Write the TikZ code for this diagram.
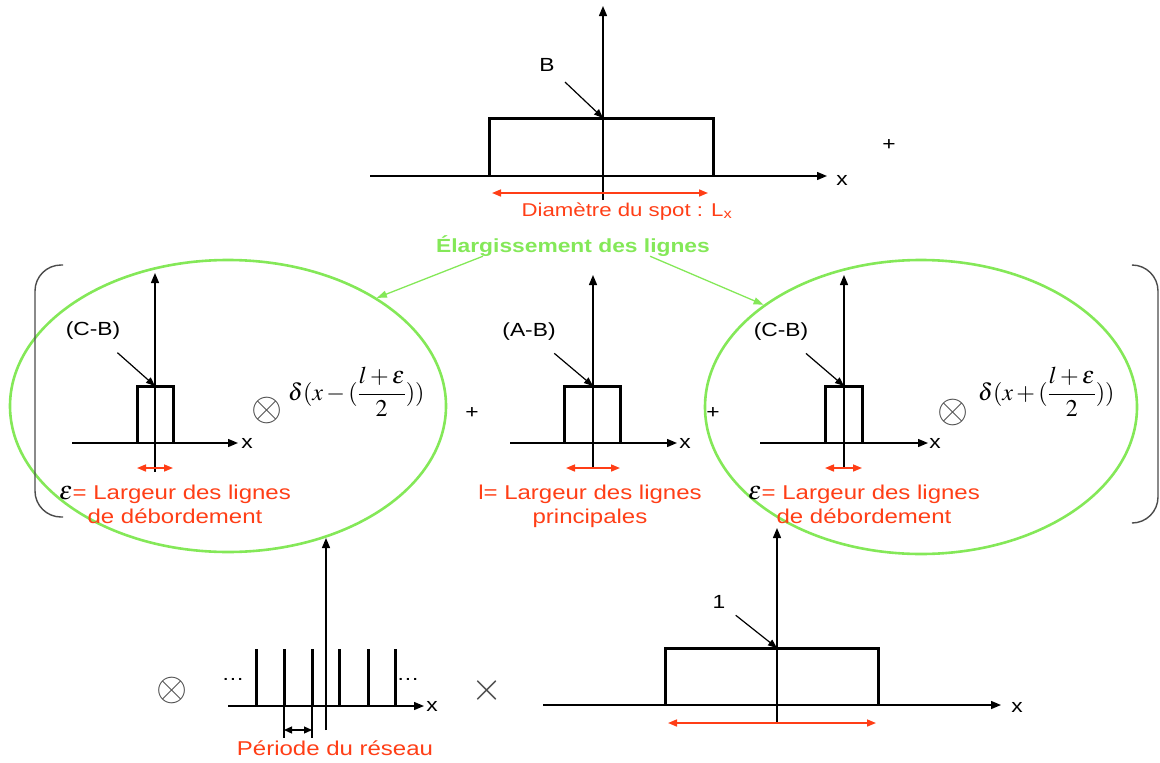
\documentclass[tikz,border=0pt]{standalone}
\usepackage{mathptmx}
\usepackage{fontspec}
\setmainfont{Liberation Sans}[FakeStretch=1.2]
\usetikzlibrary{shapes.geometric, positioning, arrows.meta, calc}

\definecolor{spotred}{RGB}{255,62,22}
\definecolor{widegreen}{RGB}{132,232,88}
\definecolor{bracketgray}{RGB}{75,75,75}

\begin{document}
\begin{tikzpicture}[
    x=1pt, y={(0pt,-1pt)},
    every node/.style={inner sep=0pt, font=\fontsize{19}{24}\selectfont},
    axis/.style={line width=1.4pt, -{Triangle[length=10pt, width=8pt]}},
    pulse/.style={line width=3pt},
    spread/.style={spotred, line width=1.6pt, {Triangle[length=9pt, width=7pt]}-{Triangle[length=9pt, width=7pt]}},
    pointer/.style={line width=1.2pt, -{Triangle[length=9pt, width=7pt]}},
    redtext/.style={text=spotred, align=center, font=\fontsize{20}{24}\selectfont},
    ring/.style={ellipse, draw=widegreen, line width=2.6pt},
    greenarrow/.style={widegreen, line width=1.3pt, -{Triangle[length=10pt, width=7pt]}},
    bracket/.style={draw=bracketgray, line width=1.4pt, rounded corners=26pt},
    opsign/.style={text=bracketgray, font=\fontsize{40}{40}\selectfont},
    formula/.style={font=\fontsize{24}{28}\selectfont, anchor=base west}
]
\useasboundingbox (0,0) rectangle (1160,763);

% Spot profile (top)
\draw[axis] (370,176) -- (827,176);
\node (xtop) at (842,180) {x};
\draw[axis] (603,200) -- (603,6);
\draw[pulse] (489,176) |- (713,118) -- (713,176);
\coordinate (Btop) at (603,118);
\node (B) at (547,65) {B};
\draw[pointer, shorten <=15pt] (B) -- (Btop);
\draw[spread] (492,193) -- (708,193);
\node[redtext, anchor=base, font=\fontsize{18.5}{22}\selectfont] (diam) at (627,216) {Diamètre du spot : L\textsubscript{x}};
\node (plus1) at (889,145) {+};

% Line broadening and the two rings
\node[anchor=base, text=widegreen, font=\bfseries\fontsize{19}{24}\selectfont] (elarg) at (573,252) {Élargissement des lignes};
\node[ring, minimum width=436pt, minimum height=292pt] (ringL) at (228,406) {};
\node[ring, minimum width=432pt, minimum height=294pt] (ringR) at (921,407) {};
\draw[greenarrow] ($(elarg.south west)+(47,0)$) -- (ringL.36);
\draw[greenarrow] ($(elarg.south east)+(-60,0)$) -- (ringR.147);

% Brackets
\draw[bracket] (63,265) -- (35,265) -- (35,517) -- (63,517);
\draw[bracket] (1133,265) -- (1158,265) -- (1158,523) -- (1133,523);

% Overflow lines, left
\draw[axis] (72,443) -- (238,443);
\node (xL) at (247,443) {x};
\draw[axis] (155,472) -- (155,273);
\draw[pulse] (137,443) |- (173,386) -- (173,443);
\coordinate (CBLtop) at (155,386);
\node (CBL) at (93,331) {(C-B)};
\draw[pointer, shorten <=19pt] (CBL) -- (CBLtop);
\draw[spread] (137,468) -- (173,468);
\node[opsign] (convL) at (267,410) {$\otimes$};
\node[formula] (deltaL) at (288,400) {$\displaystyle\delta(x-(\frac{l+\varepsilon}{2}))$};
\node[redtext, anchor=base] (epsL) at (175,523) {{\color{black}\fontsize{26}{24}\selectfont$\varepsilon$}= Largeur des lignes\\de débordement};

% Main lines, middle
\node (plus2) at (472,413) {+};
\draw[axis] (510,443) -- (677,443);
\node (xM) at (685,443) {x};
\draw[axis] (593,467) -- (593,275);
\draw[pulse] (564,443) |- (620,386) -- (620,443);
\coordinate (ABtop) at (593,386);
\node (AB) at (529,332) {(A-B)};
\draw[pointer, shorten <=19pt] (AB) -- (ABtop);
\draw[spread] (566,468) -- (620,468);
\node[redtext, anchor=base] (lM) at (590,523) {l= Largeur des lignes\\principales};
\node (plus3) at (713,413) {+};

% Overflow lines, right
\draw[axis] (760,443) -- (928,443);
\node (xR) at (935,443) {x};
\draw[axis] (844,467) -- (844,275);
\draw[pulse] (825,443) |- (862,386) -- (862,443);
\coordinate (CBRtop) at (844,386);
\node (CBR) at (781,332) {(C-B)};
\draw[pointer, shorten <=19pt] (CBR) -- (CBRtop);
\draw[spread] (825,468) -- (862,468);
\node[opsign] (convR) at (953,412) {$\otimes$};
\node[formula] (deltaR) at (978,400) {$\displaystyle\delta(x+(\frac{l+\varepsilon}{2}))$};
\node[redtext, anchor=base] (epsR) at (864,523) {{\color{black}\fontsize{26}{24}\selectfont$\varepsilon$}= Largeur des lignes\\de débordement};

% Grating (bottom left)
\node[opsign] (convB) at (172,690) {$\otimes$};
\draw[axis] (228,706) -- (424,706);
\node (xG) at (432,706) {x};
\draw[axis] (326,730) -- (326,538);
\foreach \sx in {256,284,312,339,368,395}
    \draw[pulse] (\sx,706) -- (\sx,649);
\node (dotsL) at (233,679) {\dots};
\node (dotsR) at (408,679) {\dots};
\draw[line width=1.3pt] (284,706) -- (284,738) (312,706) -- (312,738);
\draw[line width=1.3pt, {Triangle[length=8pt, width=7pt]}-{Triangle[length=8pt, width=7pt]}] (284,730) -- (312,730);
\node[redtext, anchor=base] (period) at (335,755) {Période du réseau};
\node[opsign] (times) at (487,690) {$\times$};

% Spot window (bottom right)
\draw[axis] (543,705) -- (1001,705);
\node (xW) at (1017,707) {x};
\draw[axis] (777,722) -- (777,528);
\draw[pulse] (665,705) |- (878,648) -- (878,705);
\coordinate (onetop) at (777,648);
\node (one) at (719,602) {1};
\draw[pointer, shorten <=13pt] (one) -- (onetop);
\draw[spread] (668,723) -- (876,723);

\end{tikzpicture}
\end{document}
